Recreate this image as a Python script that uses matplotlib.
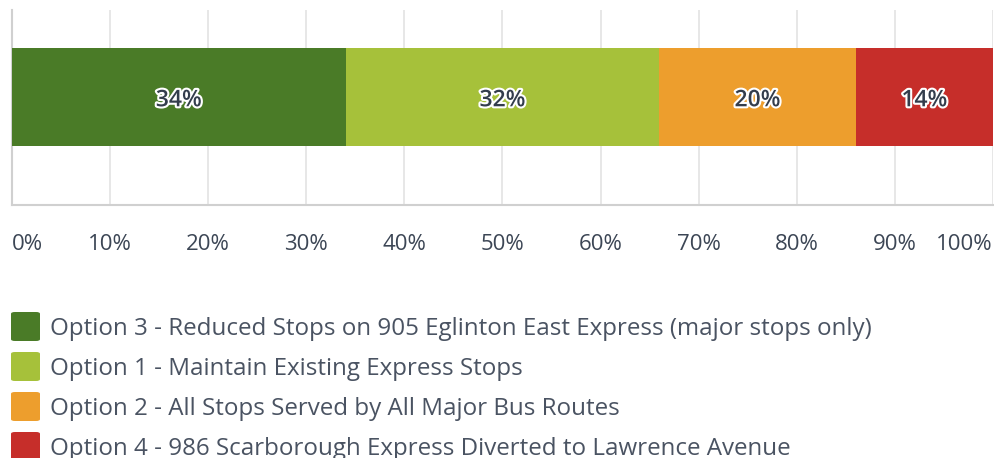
import matplotlib
matplotlib.use('Agg')
import matplotlib.pyplot as plt
import matplotlib.patheffects as pe
from matplotlib.patches import FancyBboxPatch

plt.rcParams['font.family'] = ['Open Sans', 'DejaVu Sans']

options = [
    'Option 3 - Reduced Stops on 905 Eglinton East Express (major stops only)',
    'Option 1 - Maintain Existing Express Stops',
    'Option 2 - All Stops Served by All Major Bus Routes',
    'Option 4 - 986 Scarborough Express Diverted to Lawrence Avenue',
]
shares = [34, 32, 20, 14]
colors = ['#4a7b27', '#a6c13a', '#ed9e2d', '#c62e2a']
xticks = [0, 10, 20, 30, 40, 50, 60, 70, 80, 90, 100]
text_col = '#3c4655'

fig = plt.figure(figsize=(9.95, 4.58), dpi=100)
ax = fig.add_axes([0.012, 0.552, 0.986, 0.426])

left = 0
for share, col in zip(shares, colors):
    ax.barh(0, share, left=left, height=1.0, color=col, zorder=3)
    ax.text(left + share / 2, -0.03, f'{share}%', ha='center', va='center',
            fontsize=16.5, fontweight='semibold', color='#333d4c', zorder=4,
            path_effects=[pe.withStroke(linewidth=3, foreground='white')])
    left += share

ax.set_xlim(0, 100)
ax.set_ylim(-1.10, 0.89)
ax.set_yticks([])
ax.set_xticks(xticks)
ax.set_xticklabels([f'{t}%' for t in xticks], fontsize=16, color=text_col)
labels = ax.get_xticklabels()
labels[0].set_ha('left')
labels[-1].set_ha('right')
ax.tick_params(axis='x', length=0, pad=21)
ax.grid(axis='x', color='#e3e3e3', linewidth=1.2, zorder=0)
for side in ['top', 'right']:
    ax.spines[side].set_visible(False)
for side in ['left', 'bottom']:
    ax.spines[side].set_color('#d0d0d0')
    ax.spines[side].set_linewidth(1.5)

# legend drawn by hand: rounded colour squares with the option names
W, H = fig.get_size_inches() * fig.dpi
for i, (name, col) in enumerate(zip(options, colors)):
    yc = 326 + i * 40
    sq = FancyBboxPatch((11 / W, 1 - (yc + 15) / H), 29 / W, 29 / H,
                        boxstyle='round,pad=0,rounding_size=0.004',
                        transform=fig.transFigure, facecolor=col,
                        edgecolor='none')
    fig.add_artist(sq)
    fig.text(50 / W, 1 - (yc + 3) / H, name, fontsize=17.4, color='#4a5362',
             va='center', ha='left')

fig.savefig('out.png', dpi=100)
